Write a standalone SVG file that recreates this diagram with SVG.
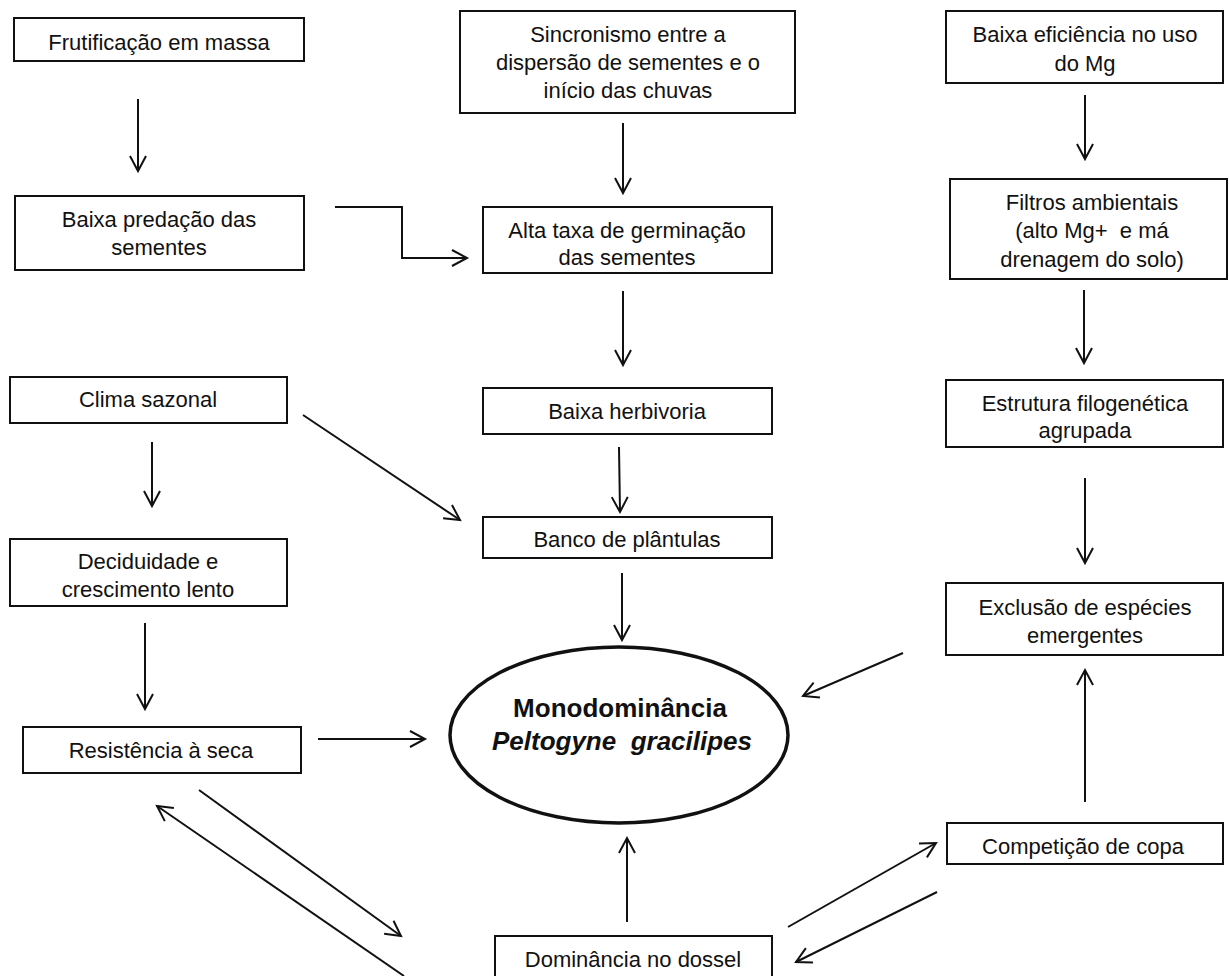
<svg xmlns="http://www.w3.org/2000/svg" width="1229" height="976" viewBox="0 0 1229 976">
<defs>
<marker id="arr" markerUnits="userSpaceOnUse" markerWidth="20" markerHeight="20" refX="0" refY="0" viewBox="-17 -10 19 20" orient="auto" overflow="visible">
<path d="M -15 -8 L 0 0 L -15 8" fill="none" stroke="#111" stroke-width="2"/>
</marker>
</defs>
<style>
rect{fill:#fff;stroke:#111;stroke-width:2}
text{font-family:"Liberation Sans",Arial,sans-serif;font-size:22px;fill:#111;text-anchor:middle}
.c{fill:none;stroke:#111;stroke-width:2;marker-end:url(#arr)}
</style>
<rect x="0" y="0" width="1229" height="976" style="stroke:none"/>
<g id="n_frut"><rect x="14" y="18" width="290" height="43"/><text x="159" y="50">Frutificação em massa</text></g>
<g id="n_pred"><rect x="15" y="196" width="289" height="74"/><text x="159" y="227">Baixa predação das</text><text x="159" y="255">sementes</text></g>
<g id="n_sinc"><rect x="460" y="11" width="335" height="102"/><text x="628" y="42">Sincronismo entre a</text><text x="628" y="70">dispersão de sementes e o</text><text x="628" y="98">início das chuvas</text></g>
<g id="n_alta"><rect x="483" y="207" width="289" height="66"/><text x="627" y="238">Alta taxa de germinação</text><text x="627" y="265">das sementes</text></g>
<g id="n_herb"><rect x="483" y="388" width="289" height="46"/><text x="627" y="419">Baixa herbivoria</text></g>
<g id="n_banco"><rect x="483" y="517" width="289" height="41"/><text x="627" y="547">Banco de plântulas</text></g>
<g id="n_efic"><rect x="946" y="11" width="277" height="72"/><text x="1085" y="42">Baixa eficiência no uso</text><text x="1085" y="71">do Mg</text></g>
<g id="n_filt"><rect x="950" y="179" width="277" height="100"/><text x="1092" y="210">Filtros ambientais</text><text x="1092" y="238" xml:space="preserve">(alto Mg+  e má</text><text x="1092" y="267">drenagem do solo)</text></g>
<g id="n_estr"><rect x="946" y="380" width="277" height="67"/><text x="1085" y="411">Estrutura filogenética</text><text x="1085" y="438">agrupada</text></g>
<g id="n_excl"><rect x="946" y="583" width="277" height="72"/><text x="1085" y="615">Exclusão de espécies</text><text x="1085" y="643">emergentes</text></g>
<g id="n_comp"><rect x="947" y="823" width="276" height="41"/><text x="1083" y="854">Competição de copa</text></g>
<g id="n_dom"><rect x="495" y="936" width="277" height="44"/><text x="633" y="967">Dominância no dossel</text></g>
<g id="n_clima"><rect x="10" y="377" width="277" height="46"/><text x="148" y="407">Clima sazonal</text></g>
<g id="n_decid"><rect x="10" y="539" width="277" height="67"/><text x="148" y="569">Deciduidade e</text><text x="148" y="597">crescimento lento</text></g>
<g id="n_resist"><rect x="23" y="727" width="278" height="46"/><text x="161" y="758">Resistência à seca</text></g>
<g id="n_mono"><ellipse cx="619" cy="735" rx="169" ry="88" fill="#fff" stroke="#111" stroke-width="3.5"/><text x="620" y="717" style="font-weight:bold;font-size:26px">Monodominância</text><text x="622" y="750" style="font-weight:bold;font-style:italic;font-size:26px" xml:space="preserve">Peltogyne  gracilipes</text></g>
<g id="connectors">
<path class="c" d="M138 99 L138 171"/>
<path class="c" d="M335 207 L402 207 L402 258 L467 258"/>
<path class="c" d="M623 123 L623 193"/>
<path class="c" d="M623 291 L623 365"/>
<path class="c" d="M619 447 L620 512"/>
<path class="c" d="M622 573 L622 640"/>
<path class="c" d="M1085 95 L1085 159"/>
<path class="c" d="M1084 290 L1084 363"/>
<path class="c" d="M1085 478 L1085 563"/>
<path class="c" d="M1085 802 L1085 670"/>
<path class="c" d="M903 653 L803 696"/>
<path class="c" d="M788 927 L936 843"/>
<path class="c" d="M937 892 L796 962"/>
<path class="c" d="M627 922 L627 838"/>
<path class="c" d="M152 442 L152 506"/>
<path class="c" d="M303 415 L460 520"/>
<path class="c" d="M145 623 L145 709"/>
<path class="c" d="M318 739 L425 739"/>
<path class="c" d="M199 790 L401 936"/>
<path class="c" d="M404 976 L157 806"/>
</g>
</svg>
